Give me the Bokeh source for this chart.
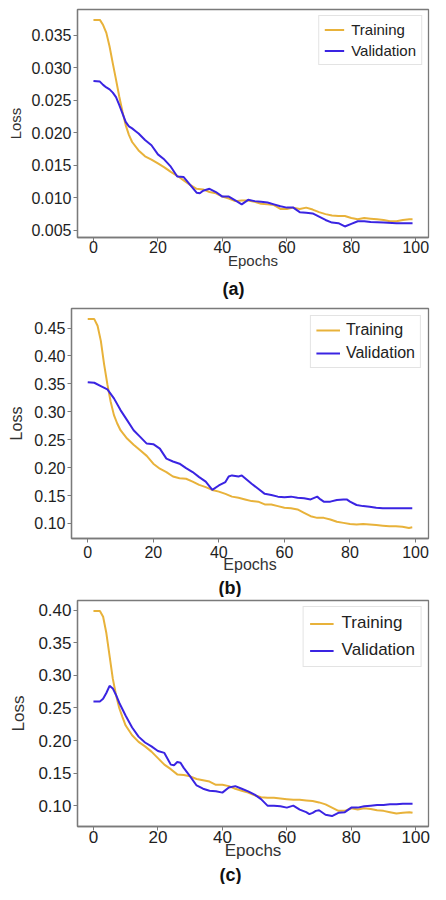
from bokeh.plotting import figure
from bokeh.models import Range1d, Legend, LegendItem, FixedTicker, PrintfTickFormatter
from bokeh.layouts import column, row
from bokeh.embed import file_html
from bokeh.resources import INLINE

# ---------------- data ----------------
x_ticks = [0, 20, 40, 60, 80, 100]

a_train_x = [0, 2, 3, 4, 5, 6, 7, 8, 9, 10, 11, 12, 14, 16, 18, 20, 22, 24, 26, 28, 30, 32, 34, 36, 38, 40,
             42, 44, 46, 48, 50, 52, 54, 56, 58, 60, 62, 64, 66, 68, 70, 72, 74, 76, 78, 80, 82, 84, 86, 88,
             90, 92, 94, 96, 98, 99]
a_train_y = [0.0374, 0.0374, 0.0366, 0.0354, 0.0333, 0.0307, 0.0282, 0.0256, 0.0233, 0.0212, 0.0197, 0.0186,
             0.0173, 0.0164, 0.0159, 0.0153, 0.0147, 0.0140, 0.0134, 0.0127, 0.0120, 0.0114, 0.0113, 0.0109,
             0.0107, 0.0102, 0.0099, 0.0095, 0.0096, 0.0096, 0.0094, 0.0091, 0.0090, 0.0089, 0.0083, 0.0083,
             0.0085, 0.0083, 0.0085, 0.0082, 0.0078, 0.0075, 0.0073, 0.0072, 0.0072, 0.0069, 0.0067, 0.0069,
             0.0068, 0.0067, 0.0066, 0.0064, 0.0064, 0.0066, 0.0067, 0.0067]
a_val_x = [0, 2, 3, 4, 5, 6, 7, 8, 9, 10, 11, 12, 13, 14, 16, 18, 20, 22, 24, 26, 28, 30, 32, 33, 34, 36, 38,
           40, 42, 44, 46, 48, 50, 52, 54, 56, 58, 60, 62, 64, 66, 68, 70, 72, 74, 76, 78, 80, 82, 84, 86, 90,
           94, 99]
a_val_y = [0.0280, 0.0279, 0.0274, 0.0270, 0.0267, 0.0262, 0.0255, 0.0243, 0.0230, 0.0217, 0.0210, 0.0207,
           0.0203, 0.0199, 0.0189, 0.0181, 0.0167, 0.0159, 0.0148, 0.0133, 0.0132, 0.0120, 0.0108, 0.0107,
           0.0111, 0.0114, 0.0109, 0.0102, 0.0102, 0.0096, 0.0090, 0.0097, 0.0095, 0.0094, 0.0093, 0.0090,
           0.0087, 0.0085, 0.0085, 0.0078, 0.0077, 0.0076, 0.0071, 0.0066, 0.0062, 0.0061, 0.0056, 0.0060,
           0.0064, 0.0064, 0.0063, 0.0062, 0.0061, 0.0061]
a_y_ticks = [0.005, 0.010, 0.015, 0.020, 0.025, 0.030, 0.035]

b_train_x = [0, 2, 3, 4, 5, 6, 7, 8, 9, 10, 12, 14, 16, 18, 20, 22, 24, 26, 28, 30, 32, 34, 36, 38, 40, 42,
             44, 46, 48, 50, 52, 54, 56, 58, 60, 62, 64, 66, 68, 70, 72, 74, 76, 78, 80, 82, 84, 86, 88, 90,
             92, 94, 96, 98, 99]
b_train_y = [0.466, 0.466, 0.454, 0.427, 0.385, 0.349, 0.318, 0.294, 0.279, 0.267, 0.252, 0.241, 0.231,
             0.221, 0.207, 0.198, 0.192, 0.184, 0.181, 0.180, 0.175, 0.169, 0.165, 0.160, 0.157, 0.153,
             0.148, 0.146, 0.143, 0.140, 0.139, 0.134, 0.134, 0.131, 0.128, 0.127, 0.125, 0.119, 0.113,
             0.110, 0.110, 0.107, 0.103, 0.101, 0.099, 0.098, 0.099, 0.098, 0.097, 0.096, 0.095, 0.095,
             0.094, 0.092, 0.093]
b_val_x = [0, 2, 4, 6, 8, 10, 12, 14, 16, 18, 20, 22, 24, 26, 28, 30, 32, 34, 36, 38, 40, 42, 43, 44, 46,
           47, 48, 50, 52, 54, 56, 58, 60, 62, 64, 66, 68, 70, 71, 72, 74, 76, 78, 79, 80, 82, 84, 86, 88,
           90, 94, 99]
b_val_y = [0.353, 0.352, 0.346, 0.340, 0.324, 0.303, 0.285, 0.267, 0.255, 0.243, 0.242, 0.234, 0.216,
           0.211, 0.207, 0.199, 0.192, 0.183, 0.175, 0.160, 0.168, 0.174, 0.184, 0.186, 0.184, 0.186,
           0.181, 0.171, 0.162, 0.153, 0.151, 0.148, 0.147, 0.148, 0.146, 0.145, 0.143, 0.148, 0.143,
           0.139, 0.139, 0.142, 0.143, 0.143, 0.139, 0.133, 0.131, 0.130, 0.128, 0.127, 0.127, 0.127]
b_y_ticks = [0.10, 0.15, 0.20, 0.25, 0.30, 0.35, 0.40, 0.45]

c_train_x = [0, 2, 3, 4, 5, 6, 7, 8, 9, 10, 12, 14, 16, 18, 20, 22, 24, 26, 28, 30, 32, 34, 36, 38, 40, 42,
             44, 46, 48, 50, 52, 54, 56, 58, 60, 62, 64, 66, 68, 70, 72, 74, 76, 78, 80, 82, 84, 86, 88, 90,
             92, 94, 96, 98, 99]
c_train_y = [0.399, 0.399, 0.390, 0.365, 0.330, 0.295, 0.270, 0.250, 0.236, 0.223, 0.208, 0.198, 0.191,
             0.183, 0.173, 0.163, 0.156, 0.148, 0.147, 0.145, 0.141, 0.139, 0.137, 0.132, 0.132, 0.130,
             0.126, 0.123, 0.120, 0.116, 0.113, 0.112, 0.112, 0.111, 0.110, 0.109, 0.109, 0.108, 0.107,
             0.105, 0.102, 0.097, 0.092, 0.092, 0.096, 0.094, 0.096, 0.095, 0.093, 0.092, 0.090, 0.088,
             0.089, 0.090, 0.089]
c_val_x = [0, 2, 3, 4, 5, 6, 7, 8, 9, 10, 12, 14, 16, 18, 20, 22, 24, 25, 26, 27, 28, 30, 32, 34, 36, 38,
           40, 42, 44, 46, 48, 50, 52, 54, 56, 58, 60, 62, 64, 66, 67, 68, 69, 70, 72, 74, 76, 78, 80, 82,
           84, 86, 88, 90, 92, 94, 96, 98, 99]
c_val_y = [0.260, 0.260, 0.264, 0.273, 0.284, 0.280, 0.270, 0.258, 0.248, 0.238, 0.220, 0.206, 0.197,
           0.191, 0.184, 0.181, 0.163, 0.162, 0.167, 0.166, 0.158, 0.145, 0.131, 0.126, 0.123, 0.122,
           0.120, 0.128, 0.130, 0.126, 0.122, 0.117, 0.110, 0.100, 0.100, 0.099, 0.097, 0.100, 0.094,
           0.090, 0.087, 0.089, 0.092, 0.093, 0.086, 0.084, 0.089, 0.090, 0.097, 0.097, 0.099, 0.100,
           0.101, 0.101, 0.102, 0.102, 0.103, 0.103, 0.103]
c_y_ticks = [0.10, 0.15, 0.20, 0.25, 0.30, 0.35, 0.40]

TRAIN_COLOR = "#E8B23A"
VAL_COLOR = "#3A24E2"
FONT = "Liberation Sans"


def make_panel(tx, ty, vx, vy, yr, yticks, yfmt, tag, height, border_top, border_left,
               tick_px, label_px, tick_standoff, xlabel_standoff, ylabel_standoff,
               title_standoff, title_offset,
               lg_font, lg_pad, lg_spacing, lg_margin, lg_glyph_w, lg_standoff, lg_label_h):
    p = figure(width=430, height=height, output_backend="svg", toolbar_location=None,
               x_range=Range1d(-4.95, 103.95), y_range=Range1d(*yr),
               min_border_left=border_left, min_border_right=2, min_border_top=border_top,
               min_border_bottom=0, title=tag, title_location="below")
    r_t = p.line(tx, ty, line_color=TRAIN_COLOR, line_width=2)
    r_v = p.line(vx, vy, line_color=VAL_COLOR, line_width=2)
    legend = Legend(items=[LegendItem(label="Training", renderers=[r_t]),
                           LegendItem(label="Validation", renderers=[r_v])],
                    location="top_right", label_text_font=FONT,
                    label_text_font_size=f"{lg_font}px", label_text_color="#222222",
                    border_line_color="#c8c8c8", border_line_width=1,
                    background_fill_alpha=1.0, padding=lg_pad, spacing=lg_spacing,
                    margin=lg_margin, glyph_width=lg_glyph_w, label_standoff=lg_standoff,
                    label_height=lg_label_h, glyph_height=lg_label_h)
    p.add_layout(legend, "center")
    p.grid.visible = False
    p.outline_line_color = "#7a7a7a"
    p.outline_line_width = 1.3
    for ax in (p.xaxis[0], p.yaxis[0]):
        ax.axis_line_color = "#7a7a7a"
        ax.axis_line_width = 1.3
        ax.major_tick_line_color = "#7a7a7a"
        ax.major_tick_in = 0
        ax.major_tick_out = 4
        ax.minor_tick_line_color = None
        ax.major_label_text_font = FONT
        ax.major_label_text_font_size = f"{tick_px}px"
        ax.major_label_text_color = "#1e1e1e"
        ax.axis_label_text_font = FONT
        ax.axis_label_text_font_style = "normal"
        ax.axis_label_text_font_size = f"{label_px}px"
        ax.axis_label_text_color = "#333333"
    p.xaxis.major_label_standoff = tick_standoff
    p.yaxis.major_label_standoff = 2
    p.xaxis.axis_label = "Epochs"
    p.yaxis.axis_label = "Loss"
    p.xaxis.axis_label_standoff = xlabel_standoff
    p.yaxis.axis_label_standoff = ylabel_standoff
    p.xaxis.ticker = FixedTicker(ticks=x_ticks)
    p.yaxis.ticker = FixedTicker(ticks=yticks)
    p.yaxis.formatter = PrintfTickFormatter(format=yfmt)
    p.title.align = "left"
    p.title.offset = title_offset
    p.title.text_font = FONT
    p.title.text_font_style = "bold"
    p.title.text_font_size = "18px"
    p.title.text_color = "#111111"
    p.title.standoff = title_standoff
    return p


pa = make_panel(a_train_x, a_train_y, a_val_x, a_val_y, (0.0039, 0.0390), a_y_ticks, "%.3f", "(a)",
                304, 9, 77, 16, 15, -1, -4, 4, 11, 145,
                15, 5, 4, 6, 20, 7, 17)
pb = make_panel(b_train_x, b_train_y, b_val_x, b_val_y, (0.073, 0.485), b_y_ticks, "%.2f", "(b)",
                293, 4, 71, 16, 16, 3, -5, 6, 0, 147,
                16, 5, 5, 7, 24, 6, 18)
pc = make_panel(c_train_x, c_train_y, c_val_x, c_val_y, (0.068, 0.415), c_y_ticks, "%.2f", "(c)",
                287, 3, 77, 17, 17, 0, -5, 7, 0, 142,
                17, 6, 7, 6, 24, 8, 19)

layout = column(row(pa), row(pb), row(pc), spacing=0)
open("out.html", "w").write(file_html(layout, INLINE))
